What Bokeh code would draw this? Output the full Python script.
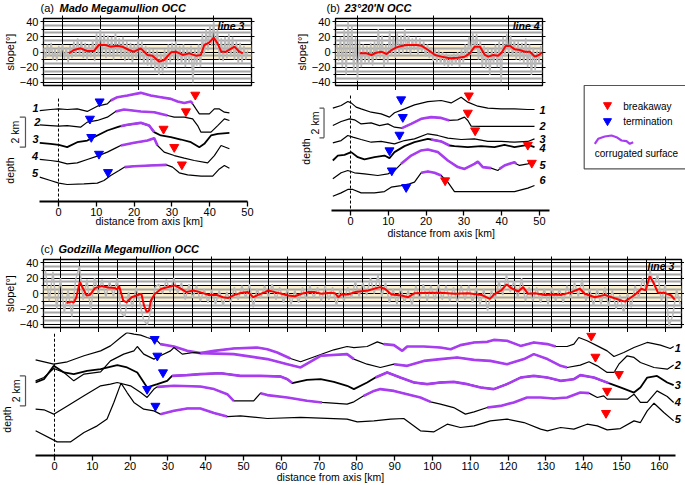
import math
from bokeh.plotting import figure
from bokeh.models import Range1d, FixedTicker, LinearAxis, Label, Grid, BoxAnnotation
from bokeh.layouts import row, column
from bokeh.embed import file_html
from bokeh.resources import INLINE
from bokeh.core.properties import value

FONT = "Liberation Sans"
RED = "#ff0000"
BLUE = "#0000ff"
PURPLE = "#a83cf0"
GRAYD = "#b9b9b9"
BAND = "#fcf0cc"

# ======================= DATA =======================
# ---- (a) Mado Megamullion OCC : slope along line 3 (deg) ----
a_raw_start, a_raw_step = -5.0, 0.5
a_raw = [5, -8, 10, -5, 12, -10, 4, -12, 8, -6,
         10, -9, 6, -14, 9, -8, 14, -6, 18, -4,
         15, -8, 12, -10, 10, -7, 16, -12, 25, -5,
         30, -2, 24, -8, 22, -6, 20, -10, 26, -4,
         18, -8, 20, -12, 14, -10, 12, -14, 10, -8,
         18, -10, 14, -16, 8, -18, 6, -20, 4, -26,
         2, -30, -2, -28, 4, -22, 10, -14, 12, -10,
         14, -12, 8, -16, 10, -20, 6, -14, 8, -40,
         4, -18, 10, -20, 24, -6, 30, 2, 36, 8,
         40, 4, 30, -10, 18, -12, 20, -8, 24, -6,
         20, -10, 14, -16, 12, -14, 8, -10, 2]
a_smooth_x = [1.7, 3.0, 4.8, 6.5, 8.3, 9.6, 11.4, 12.7, 14.5, 15.8, 17.6, 18.9, 20.7, 22.5, 23.8, 25.6,
              26.9, 28.7, 30.0, 31.8, 33.5, 35.3, 36.6, 37.5, 38.8, 40.0, 41.0, 42.0, 43.3, 45.5, 46.8, 47.7]
a_smooth = [-1.8, 2.6, 4.8, 1.3, 1.3, 9.2, 9.2, 7.0, 8.3, 7.0, 2.6, 0.4, 4.8, -3.9, -4.8, -12.7,
            -10.5, -0.4, 0.4, -3.9, -1.8, -4.8, -3.9, 9.2, 12.3, 18.9, 11.4, 0.4, 0.4, 7.0, 0.4, -1.8]

# ---- (a) depth profiles 1-5 (km, offset for display) ----
a1_x = [-4.96, -2.12, 0.09, 2.3, 4.96, 7.61, 10.27, 12.92, 13.81, 15.58, 18.23, 21.77, 24.42, 27.08, 29.73,
        31.5, 33.27, 35.04, 35.49, 36.37, 37.26, 39.91, 41.24, 42.57, 43.89, 45.22]
a1_y = [-1.67, -1.6, -1.56, -1.6, -1.56, -1.73, -1.38, -1.22, -1.0, -0.78, -0.67, -0.49, -0.67, -0.78, -0.89,
        -1.07, -1.16, -1.07, -1.22, -1.56, -1.89, -1.89, -1.56, -1.56, -1.78, -1.82]
a2_x = [-4.96, -2.12, 0.09, 2.3, 5.84, 7.61, 10.27, 12.92, 15.13, 17.35, 21.77, 25.31, 28.85, 30.62, 33.27,
        35.49, 36.81, 37.7, 40.35, 42.12, 43.89, 45.22]
a2_y = [-2.62, -2.67, -2.71, -2.67, -2.78, -2.44, -2.33, -2.11, -1.73, -1.6, -1.73, -1.78, -2.0, -2.11, -2.11,
        -2.22, -2.67, -3.11, -3.11, -2.67, -2.22, -2.33]
a3_x = [-4.96, -2.12, 0.09, 2.3, 4.96, 7.61, 10.27, 12.92, 15.58, 16.46, 18.23, 21.77, 23.98, 25.31, 27.08,
        29.73, 32.39, 35.04, 37.26, 38.58, 40.35, 42.12, 45.22]
a3_y = [-3.82, -3.89, -3.96, -4.11, -3.78, -3.67, -3.33, -3.0, -2.78, -2.71, -2.62, -2.49, -2.67, -3.11, -3.33,
        -3.44, -3.6, -3.78, -4.11, -3.89, -3.33, -3.22, -3.16]
a4_x = [-4.96, -2.12, 0.09, 2.3, 4.96, 7.61, 10.27, 12.92, 15.58, 16.46, 20.0, 23.54, 25.31, 26.19, 27.96,
        30.62, 33.27, 35.93, 39.47, 41.24, 43.01, 45.22]
a4_y = [-4.93, -5.0, -5.07, -5.22, -5.16, -4.93, -4.71, -4.44, -4.11, -4.0, -3.82, -3.67, -3.51, -4.0, -4.44,
        -4.67, -4.84, -5.0, -5.16, -4.67, -4.0, -4.22]
a5_x = [-4.96, -2.12, 0.09, 2.3, 6.73, 10.27, 12.04, 13.81, 16.02, 17.52, 20.0, 24.42, 28.58, 30.18, 31.95,
        34.16, 37.7, 40.8, 42.57, 43.89, 45.22]
a5_y = [-6.11, -6.33, -6.51, -6.6, -6.56, -6.51, -6.33, -6.0, -5.67, -5.44, -5.38, -5.33, -5.29, -5.44, -5.82,
        -5.96, -6.04, -6.04, -5.56, -5.33, -5.51]
a_corr = [[(13.81, 35.49)], [(15.13, 28.85)], [(16.46, 25.31)], [(16.46, 26.19)], [(17.52, 28.58)]]
a_term_x = [10.88, 8.32, 8.67, 10.71, 13.1]
a_term_y = [-1.07, -2.22, -3.44, -4.56, -5.78]
a_break_x = [36.19, 33.72, 27.79, 30.62, 32.65]
a_break_y = [-0.62, -1.73, -2.89, -4.11, -5.27]

# ---- (b) 23°20'N OCC : slope along line 4 ----
b_raw_start, b_raw_step = -5.5, 0.5
b_raw = [10, -12, 20, -20, 30, -30, 40, -10, 35, -25,
         20, -38, 15, -20, 10, -14, 8, -16, 12, -18,
         14, -10, 30, -8, 22, -20, 10, -15, 28, -5,
         20, -8, 25, -4, 22, -2, 30, 0, 22, -4,
         18, 2, 20, -4, 18, 0, 14, -6, 10, -8,
         6, -12, 4, -14, 2, -16, 0, -18, -2, -20,
         -4, -18, -2, -16, 0, -20, 4, -14, 10, -8,
         20, -4, 26, 2, 24, -10, 16, -20, 8, -22,
         6, -30, 4, -16, 10, -20, 16, -40, 20, -6,
         24, -2, 22, -6, 16, -10, 14, -12, 12, -16,
         18, -20, 10, -30, 6, -24, 2, -14, 8]
b_smooth_x = [0.6, 2.4, 3.7, 5.0, 6.3, 7.7, 9.0, 10.3, 11.6, 13.0, 15.6, 16.9, 18.7, 20.5, 22.2, 24.4, 26.6,
              28.4, 29.7, 31.0, 32.4, 33.7, 34.6, 35.9, 37.2, 38.1, 39.2, 40.3, 41.6, 42.9, 44.3, 45.6, 46.9,
              48.0, 48.9]
b_smooth = [-1.8, -1.8, -3.9, -0.9, 0.4, -2.6, 2.6, 6.1, 7.9, 9.2, 9.2, 8.3, 2.6, -3.9, -6.1, -8.3, -7.5,
            -6.1, -1.8, 7.0, 7.0, -3.9, -6.1, -3.9, -4.8, -0.9, 7.9, 8.3, 3.5, 2.6, 0.4, 0.4, -6.1,
            -3.9, -0.4]

# ---- (b) depth profiles 1-6 ----
b1_x = [-4.67, -2.47, -0.71, 0.18, 1.5, 2.82, 5.47, 8.11, 10.32, 11.64, 14.29, 16.93, 20.46, 23.99, 26.63,
        29.28, 31.04, 33.69, 36.33, 39.86, 43.39, 46.91, 48.68]
b1_y = [-1.51, -1.33, -1.07, -1.16, -1.44, -1.56, -1.78, -1.89, -2.11, -1.82, -1.56, -1.29, -1.07, -1.0, -1.16,
        -0.78, -1.11, -1.38, -1.51, -1.56, -1.56, -1.6, -1.6]
b2_x = [-4.67, -2.47, -0.26, 1.06, 2.82, 5.47, 7.67, 9.88, 11.64, 13.58, 16.05, 18.69, 21.34, 23.99, 26.19,
        28.4, 30.16, 31.04, 31.92, 34.57, 42.5, 48.68]
b2_y = [-2.67, -2.4, -2.22, -2.29, -2.56, -2.49, -2.67, -2.56, -2.78, -2.84, -2.56, -2.22, -2.11, -2.16, -2.33,
        -2.29, -2.11, -2.33, -2.71, -2.73, -2.73, -2.73]
b3_x = [-4.67, -2.47, -0.71, 0.62, 2.82, 5.47, 8.11, 11.64, 14.29, 16.93, 20.46, 23.1, 25.75, 29.28, 32.8,
        36.33, 39.86, 43.39, 46.91, 48.68]
b3_y = [-3.82, -3.67, -3.33, -3.44, -3.6, -3.78, -3.73, -3.89, -3.67, -3.56, -3.22, -3.33, -3.51, -3.6, -3.56,
        -3.73, -3.73, -3.78, -3.73, -3.56]
b4_x = [-4.67, -3.35, -1.59, 0.18, 1.94, 3.7, 6.35, 8.99, 10.32, 11.64, 14.29, 16.93, 20.46, 21.34, 23.99,
        26.19, 27.51, 31.04, 34.57, 38.1, 40.74, 43.39, 46.91, 48.68]
b4_y = [-5.0, -4.67, -4.62, -4.44, -4.78, -4.93, -4.78, -4.67, -4.84, -4.44, -4.04, -3.78, -3.56, -3.6, -3.73,
        -4.0, -4.04, -4.11, -4.04, -4.11, -3.96, -4.11, -3.96, -4.11]
b5_x = [-4.67, -2.47, -0.71, 1.06, 3.7, 7.23, 9.88, 11.64, 13.4, 16.05, 18.69, 20.46, 23.1, 25.75, 28.4,
        30.16, 32.8, 33.69, 35.01, 37.21, 38.98, 39.42, 40.74, 42.06, 43.39, 43.83, 44.71, 46.91, 48.24, 48.68]
b5_y = [-6.22, -5.82, -5.67, -5.82, -5.89, -6.0, -5.89, -5.67, -5.22, -4.67, -4.33, -4.27, -4.44, -5.0, -5.44,
        -5.56, -5.22, -5.07, -5.44, -5.51, -5.67, -5.56, -5.33, -5.22, -5.11, -5.22, -5.33, -5.22, -5.11, -5.07]
b6_x = [-4.67, -2.47, -0.71, 0.62, 2.82, 6.35, 8.99, 10.76, 13.4, 15.61, 16.93, 18.69, 20.46, 22.22, 23.99,
        25.75, 27.51, 31.04, 38.1, 43.39, 46.91, 48.68]
b6_y = [-7.38, -7.16, -6.93, -6.93, -7.16, -7.16, -7.07, -6.78, -6.67, -6.56, -6.44, -5.82, -5.73, -5.82, -6.0,
        -6.44, -7.07, -7.07, -7.07, -7.07, -6.84, -6.67]
b_corr = [[], [(13.58, 26.19)], [], [(21.34, 26.19)], [(13.4, 37.21), (39.42, 43.83)], [(18.69, 23.99)]]
b_term_x = [13.4, 13.84, 12.96, 10.32, 10.93, 14.73]
b_term_y = [-0.93, -2.11, -3.29, -4.33, -5.67, -6.78]
b_break_x = [31.31, 31.04, 32.98, 46.91, 47.97, 25.04]
b_break_y = [-0.67, -1.82, -3.0, -3.96, -5.16, -6.33]

# ---- (c) Godzilla Megamullion OCC : slope along line 3 ----
c_raw_start, c_raw_step = -4.0, 1.0
c_raw = [30, -10, 28, -20, 20, -25, 5, -30, 18, 35,
         -8, 18, -22, 20, 0, 18, -5, 16, -4, 20,
         -25, -30, 2, -18, 8, -12, -35, -40, -20, 8,
         12, 0, 18, 2, 20, 0, 14, -8, 12, -6,
         10, -10, 6, -12, 5, -14, 4, -16, 2, -12,
         8, -8, 10, -6, 12, -18, 6, -6, 10, -4,
         12, -8, 8, -12, 6, -14, 4, -12, 8, -8,
         10, -6, 8, -10, 10, -8, 8, -16, 6, -10,
         8, -6, 16, -4, 14, -2, 20, 0, 24, -4,
         14, -12, 6, -14, 8, -12, 4, -16, 10, -8,
         12, -10, 10, -8, 12, -8, 10, -10, 8, -12,
         10, -8, 10, -12, 8, -14, 6, -22, 4, -8,
         16, -2, 24, 2, 16, -6, 20, -10, 8, -10,
         8, -12, 6, -14, 8, -10, 6, -12, 10, -6,
         14, -4, 18, -10, 6, -16, 6, -14, 8, -16,
         4, -20, -2, -26, 0, -18, 10, -6, 20, 4,
         30, 10, 25, -10, 12, -42, -28, 5, -15]
c_smooth_x = [1.6, 2.9, 3.5, 4.2, 5.1, 6.0, 6.9, 7.8, 9.1, 10.8, 12.6, 14.4, 15.0, 15.5, 16.6, 17.5, 18.8,
              20.1, 21.4, 22.1, 22.8, 23.4, 23.9, 25.0, 26.7, 28.5, 30.2, 31.6, 33.3, 35.1, 36.9, 39.1, 41.3,
              43.0, 44.4, 46.1, 47.9, 49.6, 51.0, 52.3, 54.1, 55.0, 56.7, 58.5, 60.2, 62.0, 63.8, 65.5, 67.3,
              69.0, 71.3, 72.6, 73.5, 74.3, 76.1, 77.9, 81.4, 84.5, 85.8, 87.6, 90.2, 92.0, 93.7, 97.3, 100.8,
              104.3, 107.9, 111.4, 113.6, 114.9, 116.6, 118.0, 119.3, 121.1, 122.4, 123.7, 125.5, 128.1, 130.8,
              132.5, 135.2, 137.4, 138.7, 141.4, 144.0, 146.6, 149.3, 151.0, 151.9, 153.7, 154.8, 155.9, 156.8,
              158.1, 159.8, 161.6, 162.5]
c_smooth = [-12.3, -10.5, -11.8, -4.8, 14.9, 6.1, -2.6, -1.8, 7.0, 9.6, 7.9, 7.0, 5.3, 9.6, -9.2, -11.4, -4.8,
            -2.6, -0.4, -15.8, -23.7, -22.4, -9.2, -0.4, 6.1, 8.3, 10.5, 7.0, 1.8, 3.9, 1.8, -1.8, -1.8,
            -4.8, -5.7, -1.8, 0.9, 1.8, -4.8, -1.8, 1.8, 3.9, 1.8, -0.4, -2.6, -3.5, -0.4, 1.8, 1.8,
            -0.4, 0.9, 0.4, -4.8, -1.3, -1.3, 1.8, 3.9, 8.3, 6.1, -1.3, -2.6, -4.8, 0.4, 0.9, 0.9,
            -0.4, 0.4, -1.8, -7.0, -0.4, 3.9, 11.8, 7.0, 2.6, 8.3, -0.4, 0.4, -1.8, -1.3,
            -1.8, 1.8, 6.1, -0.4, -4.8, -1.8, -6.1, -10.5, -4.8, -1.8, 6.1, 4.0, 22.4, 14.9,
            0.9, 0.9, -2.6, -7.9]

# ---- (c) depth profiles 1-5 ----
c1_x = [-5.0, -0.2, 3.4, 7.8, 12.2, 14.8, 17.5, 19.2, 21.0, 22.8, 24.5, 27.2, 28.0, 31.6, 35.1, 38.6, 42.2,
        47.4, 53.6, 56.3, 58.9, 62.4, 65.1, 69.5, 73.9, 77.4, 79.2, 82.7, 85.4, 87.1, 89.8, 92.0, 93.3, 97.7,
        102.1, 104.8, 107.4, 111.0, 114.5, 116.2, 119.7, 123.3, 126.8, 130.4, 132.6, 135.6, 137.4, 138.7,
        140.9, 143.6, 146.2, 148.0, 150.6, 153.3, 156.8, 160.3, 162.9, 163.8]
c1_y = [-2.49, -2.78, -2.62, -2.22, -1.89, -1.56, -1.0, -0.67, -0.78, -0.84, -1.0, -1.22, -1.44, -1.6, -1.89,
        -2.04, -1.89, -1.73, -1.67, -1.78, -2.0, -2.4, -2.62, -2.22, -1.82, -1.6, -1.67, -1.6, -1.29, -1.44,
        -1.51, -1.89, -1.6, -1.6, -1.67, -1.78, -1.51, -1.33, -1.29, -1.16, -1.22, -1.56, -1.33, -1.44, -1.6,
        -1.6, -1.44, -1.0, -1.22, -1.56, -1.89, -2.27, -2.0, -1.67, -1.33, -1.51, -1.73, -1.6]
c2_x = [-5.0, -2.8, -0.2, 2.5, 5.1, 7.8, 12.2, 14.8, 18.3, 21.0, 21.9, 23.6, 26.3, 28.0, 30.7, 31.6, 33.8,
        36.9, 38.6, 47.4, 56.3, 61.6, 65.1, 70.4, 77.4, 79.2, 82.7, 86.2, 89.8, 93.3, 97.7, 102.1, 106.5,
        111.0, 115.3, 119.7, 124.2, 126.8, 130.4, 133.9, 135.6, 139.1, 141.4, 143.6, 146.2, 148.0, 149.3,
        151.5, 153.3, 155.0, 158.6, 162.1, 163.8]
c2_y = [-3.89, -3.67, -3.07, -3.33, -3.89, -3.44, -3.29, -2.56, -2.11, -1.89, -1.6, -2.11, -2.44, -2.22,
        -1.89, -1.67, -2.11, -2.0, -2.04, -2.11, -2.44, -2.78, -3.0, -2.22, -2.11, -2.44, -2.78, -3.0, -2.78,
        -2.89, -2.56, -2.44, -2.33, -2.49, -2.56, -2.78, -2.44, -2.11, -2.44, -2.89, -3.0, -2.84, -2.62,
        -2.89, -3.33, -3.33, -2.78, -2.22, -2.33, -2.67, -3.0, -3.11, -2.84]
c3_x = [-5.0, -2.8, -0.2, 2.5, 5.1, 8.6, 12.2, 16.6, 19.2, 21.9, 24.5, 27.2, 29.8, 31.1, 35.1, 38.6, 43.9,
        49.2, 54.5, 59.8, 61.6, 62.9, 66.8, 70.4, 73.9, 77.4, 79.2, 82.7, 84.9, 88.0, 91.5, 95.1, 98.6,
        102.1, 105.6, 109.2, 112.7, 116.2, 119.7, 123.3, 126.8, 130.4, 133.9, 137.4, 139.1, 142.7, 146.6,
        149.7, 153.3, 155.0, 156.8, 159.4, 162.1, 163.8]
c3_y = [-4.0, -3.78, -2.89, -3.33, -3.44, -3.22, -3.11, -2.84, -3.0, -3.33, -4.33, -4.11, -3.89, -3.56,
        -3.51, -3.44, -3.38, -3.56, -3.56, -3.6, -3.78, -4.04, -3.82, -3.78, -3.96, -4.22, -4.44, -4.0,
        -3.67, -3.33, -3.67, -4.0, -4.11, -4.0, -3.96, -4.11, -4.33, -4.44, -4.11, -3.67, -3.56, -3.67,
        -3.89, -3.78, -3.51, -3.67, -4.04, -4.33, -4.67, -4.33, -3.67, -3.56, -4.0, -4.18]
c4_x = [-5.0, -2.8, -0.2, 3.4, 7.8, 12.2, 14.8, 16.6, 20.1, 22.8, 24.5, 26.3, 27.2, 31.6, 38.6, 42.2, 45.7,
        47.4, 52.7, 54.5, 56.3, 61.6, 66.8, 70.8, 77.4, 79.2, 81.8, 84.5, 86.2, 89.8, 93.3, 96.8, 99.5,
        102.1, 105.6, 108.7, 111.0, 114.5, 118.0, 121.5, 125.0, 128.6, 132.1, 135.6, 139.1, 141.4, 143.6,
        145.3, 146.2, 151.5, 153.3, 155.0, 156.8, 159.4, 162.1, 163.8]
c4_y = [-5.78, -5.82, -6.11, -5.56, -4.89, -4.22, -4.11, -4.0, -4.22, -4.67, -5.0, -4.44, -4.29, -4.22,
        -4.27, -4.44, -4.78, -5.22, -5.22, -4.71, -4.84, -5.0, -5.22, -5.33, -5.44, -5.29, -4.89, -4.56,
        -4.44, -4.56, -4.78, -5.0, -5.29, -5.44, -5.67, -6.11, -5.96, -5.67, -5.56, -5.33, -5.0, -5.0,
        -5.07, -5.0, -4.67, -4.71, -5.0, -4.89, -5.11, -5.11, -4.78, -5.33, -5.33, -4.56, -4.93, -5.33]
c5_x = [-5.0, 0.7, 4.2, 7.8, 11.3, 13.9, 15.7, 17.6, 19.2, 21.0, 23.6, 26.3, 28.0, 31.6, 35.1, 38.6, 42.2,
        45.7, 49.2, 56.3, 65.1, 77.4, 80.1, 84.5, 88.9, 92.4, 96.8, 100.4, 103.9, 107.4, 111.0, 115.3,
        119.7, 124.2, 128.6, 130.4, 133.9, 137.4, 140.9, 143.6, 146.2, 149.7, 153.3, 155.0, 156.8, 158.6,
        161.2, 163.8]
c5_y = [-7.22, -7.96, -7.96, -7.33, -6.89, -6.44, -5.33, -4.04, -4.67, -5.33, -5.78, -5.89, -6.11, -5.89,
        -5.73, -5.73, -6.04, -6.27, -6.22, -6.4, -6.33, -6.44, -6.62, -6.56, -6.44, -6.4, -7.22, -7.29,
        -6.78, -7.0, -6.89, -6.56, -6.44, -6.67, -7.11, -7.22, -7.0, -7.11, -6.78, -6.89, -7.16, -7.07,
        -6.56, -6.67, -5.89, -5.38, -6.0, -6.56]
c_corr = [[(28.0, 62.4), (87.1, 132.6)], [(38.6, 79.2), (89.8, 135.6)], [(31.1, 62.9), (84.9, 146.6)],
          [(27.2, 47.4), (54.5, 70.8), (81.8, 99.5), (114.5, 141.4)], [(28.0, 45.7)]]
c_term_x = [26.5, 27.2, 28.7, 24.5, 26.7]
c_term_y = [-1.11, -2.22, -3.33, -4.44, -5.56]
c_break_x = [142.0, 143.1, 149.3, 146.2, 145.9]
c_break_y = [-0.89, -2.29, -3.44, -4.56, -6.04]

profile_names = ["1", "2", "3", "4", "5", "6"]
legend_labels = ["breakaway", "termination", "corrugated surface"]
slope_label_ticks = [-40, -20, 0, 20, 40]
slope_minor_ticks = [-30, -10, 10, 30]
slope_black_lines = [-40, -30, -20, -10, 0, 10, 20, 30, 40]
slope_gray_lines = [-35, -25, -15, -5, 5, 15, 25, 35]
ab_km_ticks = [0, 10, 20, 30, 40, 50]
c_km_ticks = [0, 10, 20, 30, 40, 50, 60, 70, 80, 90, 100, 110, 120, 130, 140, 150, 160]
c_km_grid = [0, 5, 10, 15, 20, 25, 30, 35, 40, 45, 50, 55, 60, 65, 70, 75, 80, 85, 90, 95, 100, 105,
             110, 115, 120, 125, 130, 135, 140, 145, 150, 155, 160]
X_LABEL = "distance from axis [km]"
Y_LABEL = "slope[°]"


# ======================= HELPERS =======================
def lab(p, x, y, text, size="11px", style="normal", align="left", baseline="middle", angle=0.0, xo=0, yo=0):
    p.add_layout(Label(x=x, y=y, text=text, text_font=FONT, text_font_size=size, text_font_style=style,
                       text_align=align, text_baseline=baseline, angle=angle, x_offset=xo, y_offset=yo,
                       text_color="black"))


def base_fig(fw, fh, xr, yr, bl=0, br=0, bt=0, bb=0):
    p = figure(frame_width=fw, frame_height=fh, x_range=Range1d(*xr), y_range=Range1d(*yr),
               x_axis_type=None, y_axis_type=None, output_backend="svg", toolbar_location=None,
               min_border_left=bl, min_border_right=br, min_border_top=bt, min_border_bottom=bb)
    p.outline_line_color = None
    return p


TITLE_H = 15


def title_fig(w, parts):
    # parts: (x_px, text, style)
    p = base_fig(w, TITLE_H, (0, w), (TITLE_H, 0))
    for x, t, style in parts:
        p.text(x=[x], y=[7.6], text=[t], text_font=value(FONT), text_font_size="11px",
               text_font_style=style, text_baseline="middle", text_align="left", text_color="black")
    return p


def tick_only_axis(ticks, out):
    return LinearAxis(ticker=FixedTicker(ticks=ticks), major_tick_out=out, major_tick_in=0,
                      minor_tick_out=0, minor_tick_in=0, major_label_text_font_size="0px",
                      major_label_text_color=None, major_label_standoff=0, axis_line_color=None,
                      major_tick_line_width=1)


def make_slope(xr, fw, fh, bl, br, vgrid, vticks):
    p = base_fig(fw, fh, xr, (-44, 44), bl, br, 3, 5)
    p.outline_line_color = "black"
    p.outline_line_width = 1.3
    p.add_layout(BoxAnnotation(bottom=-10, top=10, fill_color=BAND, fill_alpha=1.0, line_alpha=0,
                               level="underlay"))
    p.add_layout(Grid(dimension=1, ticker=FixedTicker(ticks=slope_gray_lines), grid_line_color="#a6a6a6",
                      grid_line_width=2))
    p.add_layout(Grid(dimension=1, ticker=FixedTicker(ticks=slope_black_lines), grid_line_color="black",
                      grid_line_width=1))
    p.add_layout(Grid(dimension=0, ticker=FixedTicker(ticks=vgrid), grid_line_color="black",
                      grid_line_width=1))
    left = LinearAxis(ticker=FixedTicker(ticks=slope_label_ticks, minor_ticks=slope_minor_ticks),
                      major_tick_out=3, major_tick_in=0, minor_tick_out=2, minor_tick_in=0,
                      axis_line_color=None, major_label_standoff=2, major_label_text_font=FONT,
                      major_label_text_font_size="11px", major_label_text_color="black",
                      axis_label=Y_LABEL, axis_label_standoff=1, axis_label_text_font=FONT,
                      axis_label_text_font_size="11px", axis_label_text_font_style="normal",
                      axis_label_text_color="black")
    p.add_layout(left, "left")
    p.add_layout(tick_only_axis(slope_label_ticks, 3), "right")
    p.add_layout(tick_only_axis(vticks, 3), "above")
    p.add_layout(tick_only_axis(vticks, 5), "below")
    return p


def make_depth(xr, yr, fw, fh, br, bb, bounds, ticks, cap_x, cap_standoff):
    p = base_fig(fw, fh, xr, yr, 0, br, 0, bb)
    ax = LinearAxis(ticker=FixedTicker(ticks=ticks), bounds=bounds, axis_line_width=2,
                    axis_line_color="black", major_tick_out=5, major_tick_in=0, major_tick_line_width=1.3,
                    minor_tick_out=0, minor_tick_in=0, major_label_standoff=1,
                    major_label_text_font=FONT, major_label_text_font_size="11px",
                    major_label_text_color="black")
    p.add_layout(ax, "below")
    cap = LinearAxis(ticker=FixedTicker(ticks=[cap_x]), major_label_overrides={cap_x: X_LABEL},
                     major_tick_out=0, major_tick_in=0, minor_tick_out=0, minor_tick_in=0,
                     axis_line_color=None, major_label_standoff=cap_standoff,
                     major_label_text_font=FONT, major_label_text_font_size="10.5px",
                     major_label_text_color="black")
    p.add_layout(cap, "below")
    return p


def draw_profiles(p, xs_list, ys_list, corr, widths):
    for xs, ys, segs, w in zip(xs_list, ys_list, corr, widths):
        p.line(xs, ys, line_color="black", line_width=w)
        for (s, e) in segs:
            sx = [x for x in xs if s <= x <= e]
            sy = [y for x, y in zip(xs, ys) if s <= x <= e]
            p.line(sx, sy, line_color=PURPLE, line_width=2.6)


def draw_triangles(p, tx, ty, bx, by):
    p.scatter(tx, ty, marker="inverted_triangle", size=9, fill_color=BLUE, line_color=BLUE)
    p.scatter(bx, by, marker="inverted_triangle", size=9, fill_color=RED, line_color=RED)


def scale_bar(p, xv, xs, y_top, y_bot, x_text, x_depth, y_depth):
    p.segment(x0=[xv, xs, xs], y0=[y_top, y_top, y_bot], x1=[xv, xv, xv], y1=[y_bot, y_top, y_bot],
              line_color="#555555", line_width=1.2)
    lab(p, x_text, (y_top + y_bot) / 2, "2 km", size="10.5px", align="center", angle=math.pi / 2)
    lab(p, x_depth, y_depth, "depth", size="10.5px", align="center", angle=math.pi / 2)


def raw_x(start, step, vals):
    return [start + i * step for i in range(len(vals))]


# ======================= PANEL (a) =======================
ta = title_fig(288, [(40, "(a)", "normal"), (59, "Mado Megamullion OCC", "bold italic")])
sa = make_slope((-5.03, 50.0), 208, 67, 39, 41, ab_km_ticks[:-1], ab_km_ticks[:-1])
sa.line(raw_x(a_raw_start, a_raw_step, a_raw), a_raw, line_color=GRAYD, line_width=1.5)
sa.line(a_smooth_x, a_smooth, line_color=RED, line_width=2)
lab(sa, 48.1, 34.8, "line 3", size="10.5px", style="bold italic", align="right")

da = make_depth((-15.34, 60.85), (-7.733, -0.333), 288, 111, 0, 39, (-5.03, 50.0), ab_km_ticks, 24, -4)
da.segment(x0=[0], y0=[-0.87], x1=[0], y1=[-7.733], line_color="black", line_dash="3 2", line_width=1)
draw_profiles(da, [a1_x, a2_x, a3_x, a4_x, a5_x], [a1_y, a2_y, a3_y, a4_y, a5_y], a_corr,
              [1.2, 1.2, 1.8, 1.2, 1.2])
draw_triangles(da, a_term_x, a_term_y, a_break_x, a_break_y)
for nm, lx, ly in zip(profile_names, [-6.08, -5.6, -6.08, -6.2, -6.2], [-1.51, -2.44, -3.56, -4.67, -5.82]):
    lab(da, lx, ly, nm, size="11px", style="bold italic", align="center")
scale_bar(da, -8.73, -10.24, -2.11, -4.11, -11.4, -12.83, -5.67)

# ======================= PANEL (b) =======================
tb = title_fig(267, [(34, "(b)", "normal"), (52, "23°20'N OCC", "bold italic")])
sb = make_slope((-5.82, 48.94), 207, 67, 36, 24, ab_km_ticks[:-1], ab_km_ticks[:-1])
sb.line(raw_x(b_raw_start, b_raw_step, b_raw), b_raw, line_color=GRAYD, line_width=1.5)
sb.line(b_smooth_x, b_smooth, line_color=RED, line_width=2)
lab(sb, 48.15, 34.8, "line 4", size="10.5px", style="bold italic", align="right")

bkb = base_fig(33, 120, (-15.34, -6.61), (-8.333, -0.333), 0, 0, 0, 30)
scale_bar(bkb, -7.0, -8.2, -1.51, -3.49, -9.52, -11.7, -4.4)

db = make_depth((-6.61, 54.5), (-8.333, -0.333), 231, 120, 3, 30, (-5.03, 52.6), ab_km_ticks, 24, -1)
db.segment(x0=[0], y0=[-0.67], x1=[0], y1=[-8.333], line_color="black", line_dash="3 2", line_width=1)
draw_profiles(db, [b1_x, b2_x, b3_x, b4_x, b5_x, b6_x], [b1_y, b2_y, b3_y, b4_y, b5_y, b6_y], b_corr,
              [1.2, 1.2, 1.2, 1.8, 1.2, 1.2])
draw_triangles(db, b_term_x, b_term_y, b_break_x, b_break_y)
for nm, ly in zip(profile_names, [-1.6, -2.73, -3.56, -4.16, -5.27, -6.29]):
    lab(db, 50.8, ly, nm, size="11px", style="bold italic", align="center")

# ======================= LEGEND =======================
lg = base_fig(128, 240, (0, 128), (240, 0))
lg.quad(left=[17.7], right=[121], top=[85], bottom=[168.3], fill_color=None, line_color="#555555",
        line_width=1.2)
lg.scatter([41, 41], [104.5, 120.5], marker="inverted_triangle", size=8, fill_color=[RED, BLUE],
           line_color=[RED, BLUE])
lg.line([28.3, 31.7, 38.3, 45, 50, 55, 60, 63.3, 66.7], [143.3, 138.3, 136, 135, 136.7, 140, 140.7, 143.3, 141.7],
        line_color=PURPLE, line_width=2.2)
lg.text(x=[56.7, 56.7, 28.3], y=[105.5, 120.5, 153], text=legend_labels, text_font=value(FONT),
        text_font_size="10px", text_baseline="middle", text_align="left", text_color="black")

# ======================= PANEL (c) =======================
tc = title_fig(683, [(40, "(c)", "normal"), (58, "Godzilla Megamullion OCC", "bold italic")])
sc = make_slope((-4.5, 164.3), 638, 68, 42, 3, c_km_grid, c_km_ticks)
sc.line(raw_x(c_raw_start, c_raw_step, c_raw), c_raw, line_color=GRAYD, line_width=1.5)
sc.line(c_smooth_x, c_smooth, line_color=RED, line_width=2)
lab(sc, 162.4, 36.2, "line 3", size="10.5px", style="bold italic", align="right")

dc = make_depth((-14.29, 166.4), (-8.867, -0.667), 683, 123, 0, 30, (-5.03, 164.3), c_km_ticks, 73, -2)
dc.segment(x0=[0], y0=[-0.75], x1=[0], y1=[-8.867], line_color="black", line_dash="3 2", line_width=1)
draw_profiles(dc, [c1_x, c2_x, c3_x, c4_x, c5_x], [c1_y, c2_y, c3_y, c4_y, c5_y], c_corr,
              [1.2, 1.2, 1.8, 1.2, 1.2])
draw_triangles(dc, c_term_x, c_term_y, c_break_x, c_break_y)
for nm, ly in zip(profile_names, [-1.67, -2.84, -4.18, -5.29, -6.44]):
    lab(dc, 164.9, ly, nm, size="11px", style="bold italic", align="center")
scale_bar(dc, -7.67, -9.18, -3.56, -5.56, -10.3, -12.57, -6.47)

layout = column(
    row(column(row(ta), row(sa), row(da)), column(row(tb), row(sb), row(bkb, db)), lg),
    row(tc),
    row(sc),
    row(dc),
)
open("out.html", "w").write(file_html(layout, INLINE))
